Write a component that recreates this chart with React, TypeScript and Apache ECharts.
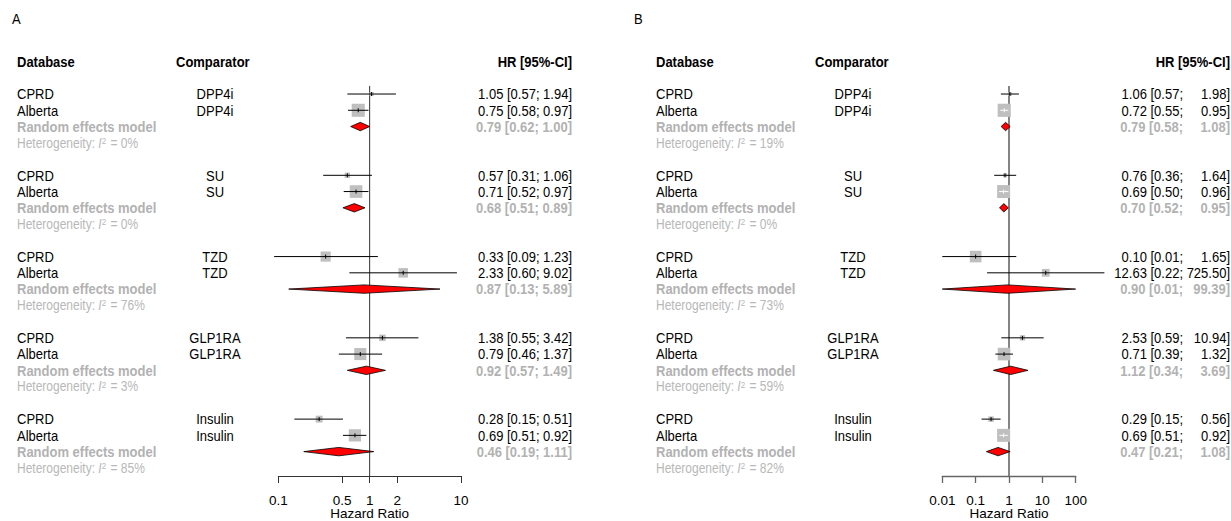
import React, { useEffect, useRef } from "react";
import * as echarts from "echarts";

// ---------- data ----------
const panelLabels = ["A", "B"];
const databases = ["CPRD", "Alberta"];
const comparators = ["DPP4i", "SU", "TZD", "GLP1RA", "Insulin"];
const headers = ["Database", "Comparator", "HR [95%-CI]"];
const reLabel = "Random effects model";
const axisTitle = "Hazard Ratio";

// Panel A
const hrA = [[1.05, 0.75], [0.57, 0.71], [0.33, 2.33], [1.38, 0.79], [0.28, 0.69]];
const lowA = [[0.57, 0.58], [0.31, 0.52], [0.09, 0.6], [0.55, 0.46], [0.15, 0.51]];
const upA = [[1.94, 0.97], [1.06, 0.97], [1.23, 9.02], [3.42, 1.37], [0.51, 0.92]];
const weightA = [[9, 91], [15, 85], [55, 48], [22, 78], [25, 80]];
const reHrA = [0.79, 0.68, 0.87, 0.92, 0.46];
const reLowA = [0.62, 0.51, 0.13, 0.57, 0.19];
const reUpA = [1.0, 0.89, 5.89, 1.49, 1.11];
const i2A = [0, 0, 76, 3, 85];
const ticksA = [0.1, 0.5, 1, 2, 10];
const tickLabelsA = ["0.1", "0.5", "1", "2", "10"];

// Panel B
const hrB = [[1.06, 0.72], [0.76, 0.69], [0.1, 12.63], [2.53, 0.71], [0.29, 0.69]];
const lowB = [[0.57, 0.55], [0.36, 0.5], [0.01, 0.22], [0.59, 0.39], [0.15, 0.51]];
const upB = [[1.98, 0.95], [1.64, 0.96], [1.65, 725.5], [10.94, 1.32], [0.56, 0.92]];
const weightB = [[8, 92], [9, 90], [72, 32], [15, 85], [16, 90]];
const reHrB = [0.79, 0.7, 0.9, 1.12, 0.47];
const reLowB = [0.58, 0.52, 0.01, 0.34, 0.21];
const reUpB = [1.08, 0.95, 99.39, 3.69, 1.08];
const i2B = [19, 0, 73, 59, 82];
const ticksB = [0.01, 0.1, 1, 10, 100];
const tickLabelsB = ["0.01", "0.1", "1", "10", "100"];

const nullEffect = 1;

// ---------- layout / style ----------
const FONT = '"Liberation Sans", Arial, Helvetica, sans-serif';
const GREY_RE = "#b2b2b2";
const GREY_HET = "#b8b8b8";
const SQUARE = "#bfbfbf";
const ROW_STEP = 5;
const TEXT_STRETCH = 1.15;

const panels = [
  {
    hr: hrA, low: lowA, up: upA, w: weightA, reHr: reHrA, reLow: reLowA, reUp: reUpA, i2: i2A,
    ticks: ticksA, tickLabels: tickLabelsA,
    labelX: 12, dbX: 17, compX: 176, compCenter: 215, valRight: 572, semiRight: 0, split: false,
    gridLeft: 278.3, gridWidth: 182.7, refColor: "#333", refWidth: 1,
  },
  {
    hr: hrB, low: lowB, up: upB, w: weightB, reHr: reHrB, reLow: reLowB, reUp: reUpB, i2: i2B,
    ticks: ticksB, tickLabels: tickLabelsB,
    labelX: 634, dbX: 656, compX: 815, compCenter: 853, valRight: 1230, semiRight: 1183, split: true,
    gridLeft: 942.3, gridWidth: 133.4, refColor: "#666", refWidth: 1.6,
  },
];

const fmt = (v: number) => v.toFixed(2);

function buildOption() {
  const grid: any[] = [];
  const xAxis: any[] = [];
  const yAxis: any[] = [];
  const series: any[] = [];
  const graphic: any[] = [];

  panels.forEach((p, pi) => {
    grid.push({
      left: p.gridLeft, width: p.gridWidth, top: 85.9, height: 390.1,
      containLabel: false, outerBoundsMode: "none",
    });
    const axisW = p.refWidth === 1 ? 1 : 1.3;
    xAxis.push({
      type: "log",
      logBase: 10,
      gridIndex: pi,
      min: p.ticks[0],
      max: p.ticks[p.ticks.length - 1],
      position: "bottom",
      axisLine: { show: true, onZero: false, lineStyle: { color: p.refColor, width: axisW } },
      axisTick: { show: true, length: 7, customValues: p.ticks, lineStyle: { color: p.refColor, width: axisW } },
      axisLabel: {
        show: true,
        customValues: p.ticks,
        margin: 17,
        fontSize: 13.5,
        fontFamily: FONT,
        color: "#000",
        formatter: (v: number) => {
          let best = 0;
          p.ticks.forEach((t, k) => {
            if (Math.abs(Math.log10(t) - Math.log10(v)) < Math.abs(Math.log10(p.ticks[best]) - Math.log10(v))) best = k;
          });
          return p.tickLabels[best];
        },
      },
      splitLine: { show: false },
      name: axisTitle,
      nameLocation: "middle",
      nameGap: 30,
      nameMoveOverlap: false,
      nameTextStyle: { fontSize: 13.5, fontFamily: FONT, color: "#000" },
    });
    yAxis.push({ type: "value", gridIndex: pi, min: -0.5, max: 23.5, inverse: true, show: false });

    // reference line
    series.push({
      type: "custom",
      xAxisIndex: pi,
      yAxisIndex: pi,
      data: [[nullEffect, -0.5, 23.5]],
      silent: true,
      renderItem: (params: any, api: any) => {
        const a = api.coord([api.value(0), api.value(1)]);
        const b = api.coord([api.value(0), api.value(2)]);
        return {
          type: "line",
          shape: { x1: a[0], y1: a[1], x2: b[0], y2: b[1] },
          style: { stroke: p.refColor, lineWidth: p.refWidth },
        };
      },
    });

    // studies
    const studyData: number[][] = [];
    comparators.forEach((_, g) => {
      databases.forEach((_, d) => {
        studyData.push([p.hr[g][d], g * ROW_STEP + d, p.low[g][d], p.up[g][d], p.w[g][d]]);
      });
    });
    series.push({
      type: "custom",
      xAxisIndex: pi,
      yAxisIndex: pi,
      clip: false,
      silent: true,
      data: studyData,
      renderItem: (params: any, api: any) => {
        const hr = api.value(0), row = api.value(1), lo = api.value(2), up = api.value(3), w = api.value(4);
        const c = api.coord([hr, row]);
        const xl = api.coord([lo, row])[0];
        const xu = api.coord([up, row])[0];
        const s = 1.37 * Math.sqrt(w);
        const inside = xl >= c[0] - s / 2 && xu <= c[0] + s / 2;
        const col = inside ? "#ffffff" : "#000000";
        return {
          type: "group",
          children: [
            { type: "rect", shape: { x: c[0] - s / 2, y: c[1] - s / 2, width: s, height: s }, style: { fill: SQUARE } },
            { type: "line", shape: { x1: xl, y1: c[1], x2: xu, y2: c[1] }, style: { stroke: col, lineWidth: 1 } },
            { type: "line", shape: { x1: c[0], y1: c[1] - 2, x2: c[0], y2: c[1] + 2 }, style: { stroke: col, lineWidth: 1 } },
          ],
        };
      },
    });

    // random effects diamonds
    series.push({
      type: "custom",
      xAxisIndex: pi,
      yAxisIndex: pi,
      clip: false,
      silent: true,
      data: comparators.map((_, g) => [p.reHr[g], g * ROW_STEP + 2, p.reLow[g], p.reUp[g]]),
      renderItem: (params: any, api: any) => {
        const row = api.value(1);
        const c = api.coord([api.value(0), row]);
        const xl = api.coord([api.value(2), row])[0];
        const xu = api.coord([api.value(3), row])[0];
        const h = 4.2;
        return {
          type: "polygon",
          shape: { points: [[xl, c[1]], [c[0], c[1] - h], [xu, c[1]], [c[0], c[1] + h]] },
          style: { fill: "#ff0000", stroke: "#000", lineWidth: 0.8 },
        };
      },
    });

    // text rows
    type T = { row: number; x: number; text: string; align: string; color: string; weight: string; size: number; rich?: boolean };
    const texts: T[] = [];
    texts.push({ row: -2, x: p.dbX, text: headers[0], align: "left", color: "#000", weight: "bold", size: 13 });
    texts.push({ row: -2, x: p.compX, text: headers[1], align: "left", color: "#000", weight: "bold", size: 13 });
    texts.push({ row: -2, x: p.valRight, text: headers[2], align: "right", color: "#000", weight: "bold", size: 13 });
    const pushVals = (row: number, hr: number, lo: number, up: number, color: string, weight: string) => {
      if (p.split) {
        texts.push({ row, x: p.semiRight, text: `${fmt(hr)} [${fmt(lo)};`, align: "right", color, weight, size: 13 });
        texts.push({ row, x: p.valRight, text: `${fmt(up)}]`, align: "right", color, weight, size: 13 });
      } else {
        texts.push({ row, x: p.valRight, text: `${fmt(hr)} [${fmt(lo)}; ${fmt(up)}]`, align: "right", color, weight, size: 13 });
      }
    };
    comparators.forEach((comp, g) => {
      databases.forEach((db, d) => {
        const row = g * ROW_STEP + d;
        texts.push({ row, x: p.dbX, text: db, align: "left", color: "#000", weight: "normal", size: 13 });
        texts.push({ row, x: p.compCenter, text: comp, align: "center", color: "#000", weight: "normal", size: 13 });
        pushVals(row, p.hr[g][d], p.low[g][d], p.up[g][d], "#000", "normal");
      });
      const reRow = g * ROW_STEP + 2;
      texts.push({ row: reRow, x: p.dbX, text: reLabel, align: "left", color: GREY_RE, weight: "bold", size: 13 });
      pushVals(reRow, p.reHr[g], p.reLow[g], p.reUp[g], GREY_RE, "bold");
      texts.push({
        row: g * ROW_STEP + 3, x: p.dbX, text: `Heterogeneity: {it|I}{sup|2} = ${p.i2[g]}%`,
        align: "left", color: GREY_HET, weight: "normal", size: 12, rich: true,
      });
    });
    series.push({
      type: "custom",
      xAxisIndex: pi,
      yAxisIndex: pi,
      clip: false,
      silent: true,
      data: texts.map((t) => [nullEffect, t.row]),
      renderItem: (params: any, api: any) => {
        const t = texts[params.dataIndex];
        const y = api.coord([nullEffect, t.row])[1];
        const style: any = {
          text: t.text,
          x: 0,
          y: 0,
          align: t.align,
          verticalAlign: "middle",
          fill: t.color,
          fontSize: t.size,
          fontWeight: t.weight,
          fontFamily: FONT,
        };
        if (t.rich) {
          style.rich = {
            it: { fontStyle: "italic", fontSize: t.size, fontFamily: FONT, fill: t.color },
            sup: { fontSize: 8, fontFamily: FONT, fill: t.color, verticalAlign: "top", lineHeight: 8, padding: [0, 1, 6, 0] },
          };
        }
        return { type: "text", x: t.x, y, scaleY: TEXT_STRETCH, style };
      },
    });

    graphic.push({
      type: "text",
      left: p.labelX,
      top: 11,
      scaleY: TEXT_STRETCH,
      style: { text: panelLabels[pi], fontSize: 13, fontFamily: FONT, fill: "#000" },
    });
  });

  return { animation: false, backgroundColor: "#fff", grid, xAxis, yAxis, series, graphic };
}

export default function App() {
  const ref = useRef<HTMLDivElement>(null);
  useEffect(() => {
    if (!ref.current) return;
    const chart = echarts.init(ref.current, undefined, { renderer: "svg" });
    chart.setOption(buildOption() as any);
    return () => chart.dispose();
  }, []);
  return (
    <div
      ref={ref}
      style={{ position: "absolute", left: 0, top: 0, width: 1231, height: 521, background: "#fff" }}
    />
  );
}
